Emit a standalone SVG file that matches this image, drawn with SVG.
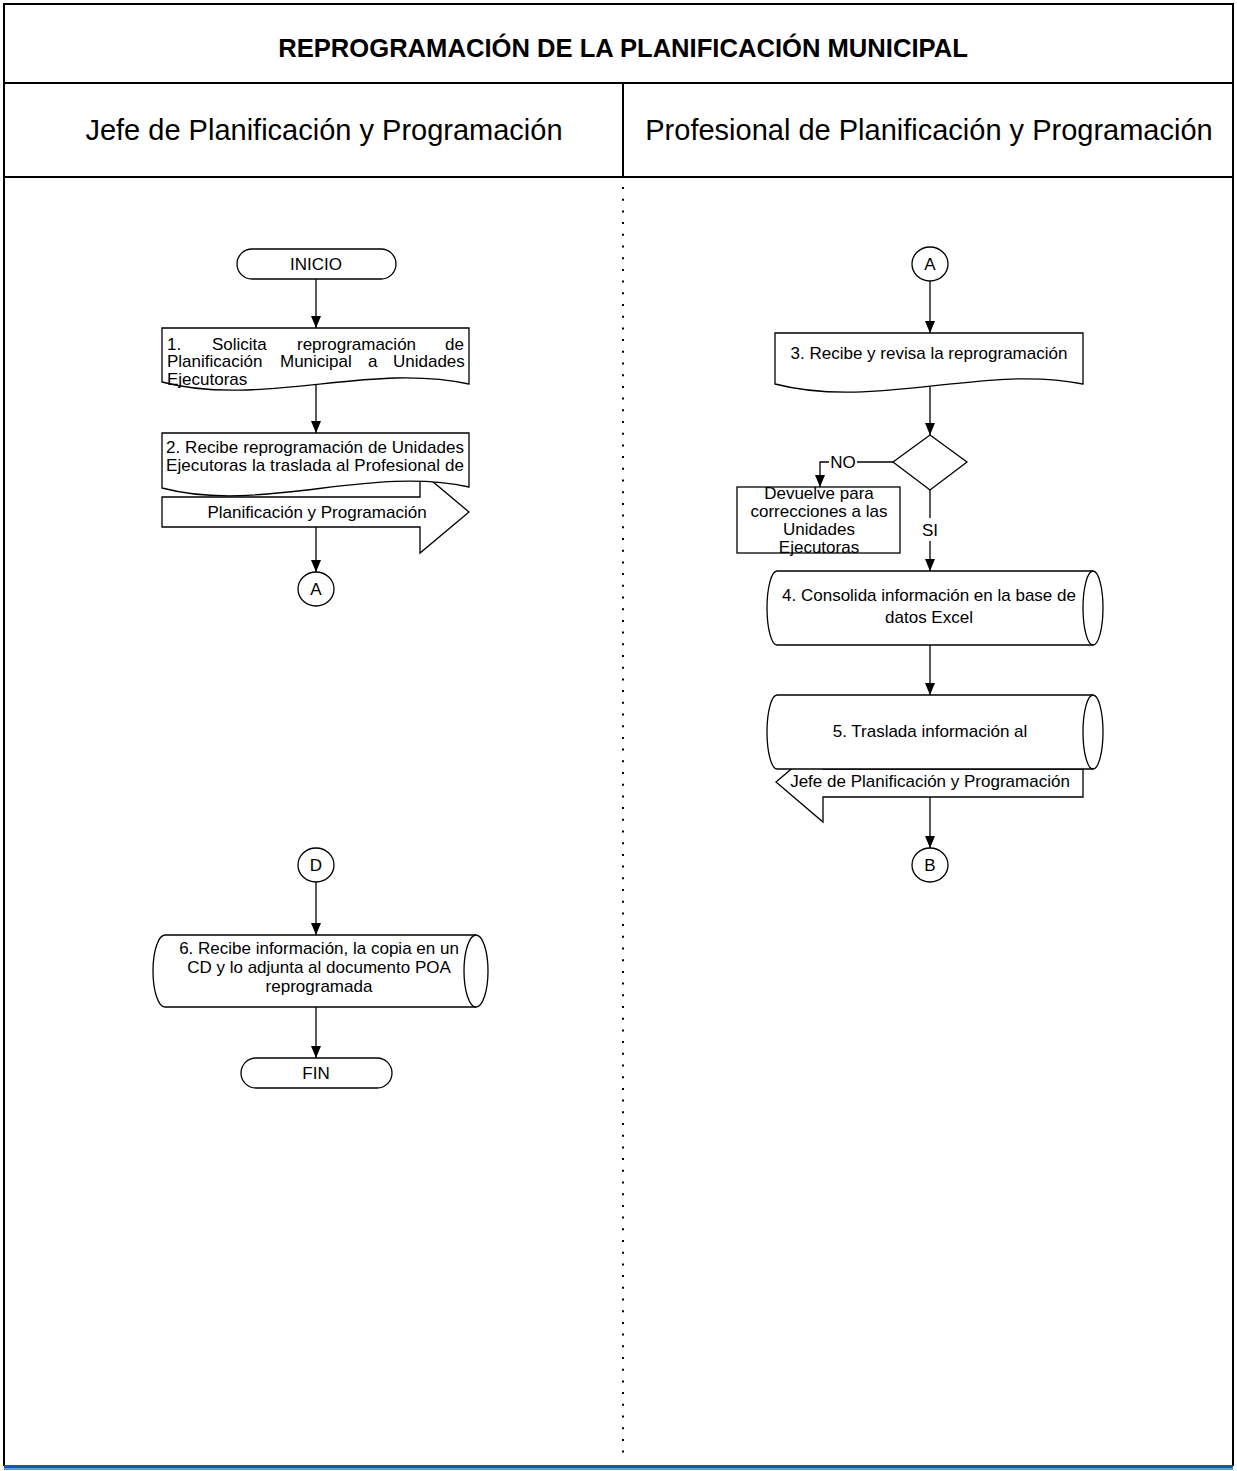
<svg xmlns="http://www.w3.org/2000/svg" width="1237" height="1471" viewBox="0 0 1237 1471">
<style>
.ln{fill:none;stroke:#000;stroke-width:1.3}
.sh{fill:#fff;stroke:#000;stroke-width:1.3}
.fr{fill:none;stroke:#000;stroke-width:2}
.t{font-family:"Liberation Sans",Arial,sans-serif;font-size:17px;fill:#000}
.c{text-anchor:middle}
.h{font-family:"Liberation Sans",Arial,sans-serif;font-size:29px;fill:#000;text-anchor:middle}
.ti{font-family:"Liberation Sans",Arial,sans-serif;font-size:25.6px;font-weight:bold;fill:#000;text-anchor:middle}
.cn{stroke:#000;stroke-width:1.3;fill:none;marker-end:url(#ah)}
</style>
<defs>
<marker id="ah" viewBox="0 0 12 10" refX="12" refY="5" markerWidth="12" markerHeight="10" markerUnits="userSpaceOnUse" orient="auto">
<path d="M0,0 L12,5 L0,10 z" fill="#000"/>
</marker>
</defs>
<rect width="1237" height="1471" fill="#fff"/>
<g id="frame">
<line class="fr" x1="4" y1="4" x2="1233" y2="4"/>
<line class="fr" x1="4" y1="3" x2="4" y2="1466"/>
<line class="fr" x1="1233" y1="3" x2="1233" y2="1466"/>
<line class="fr" x1="4" y1="83" x2="1233" y2="83"/>
<line class="fr" x1="4" y1="177" x2="1233" y2="177"/>
<line class="fr" x1="623" y1="83" x2="623" y2="177"/>
<line x1="623" y1="187" x2="623" y2="1462" stroke="#000" stroke-width="2" stroke-dasharray="2 9.7"/>
<rect x="4" y="1465" width="1229" height="3" fill="#1b58a5"/>
<rect x="4" y="1468" width="1229" height="2" fill="#5f9bd6"/>
<text class="ti" x="623" y="57">REPROGRAMACIÓN DE LA PLANIFICACIÓN MUNICIPAL</text>
<text class="h" x="324" y="140">Jefe de Planificación y Programación</text>
<text class="h" x="929" y="140">Profesional de Planificación y Programación</text>
</g>
<g id="connectors">
<line class="cn" x1="316" y1="279" x2="316" y2="328"/>
<line class="cn" x1="316" y1="384" x2="316" y2="433"/>
<line class="cn" x1="316" y1="527" x2="316" y2="572"/>
<line class="cn" x1="316" y1="882" x2="316" y2="935"/>
<line class="cn" x1="316" y1="1007" x2="316" y2="1058"/>
<line class="cn" x1="930" y1="281" x2="930" y2="333"/>
<line class="cn" x1="930" y1="385" x2="930" y2="435"/>
<line class="ln" x1="893" y1="462" x2="857" y2="462"/>
<polyline class="cn" points="829,462 820,462 820,487"/>
<text class="t c" x="843" y="468">NO</text>
<line class="ln" x1="930" y1="490" x2="930" y2="518"/>
<line class="cn" x1="930" y1="541" x2="930" y2="571"/>
<text class="t c" x="930" y="536">SI</text>
<line class="cn" x1="930" y1="645" x2="930" y2="695"/>
<line class="cn" x1="930" y1="797" x2="930" y2="848"/>
</g>
<g id="n-inicio">
<rect class="sh" x="237" y="249" width="159" height="30" rx="15" ry="15"/>
<text class="t c" x="316" y="270">INICIO</text>
</g>
<g id="n-1">
<path class="sh" d="M162,328 H469 V384 C370,362 260,408 162,382 Z"/>
<text class="t" y="350"><tspan x="167">1.</tspan><tspan x="212">Solicita</tspan><tspan x="297">reprogramación</tspan><tspan x="445">de</tspan></text>
<text class="t" y="367"><tspan x="167">Planificación</tspan><tspan x="280">Municipal</tspan><tspan x="368">a</tspan><tspan x="393">Unidades</tspan></text>
<text class="t" x="167" y="385">Ejecutoras</text>
</g>
<g id="n-2">
<polygon class="sh" points="162,497 420,497 420,471 469,512 420,553 420,527 162,527"/>
<path class="sh" d="M162,433 H469 V487 C370,465 260,514 162,488 Z"/>
<text class="t" x="166" y="453" textLength="298" lengthAdjust="spacing">2. Recibe reprogramación de Unidades</text>
<text class="t" x="166" y="471" textLength="298" lengthAdjust="spacing">Ejecutoras la traslada al Profesional de</text>
<text class="t c" x="317" y="518">Planificación y Programación</text>
</g>
<g id="n-a-left">
<ellipse class="sh" cx="316" cy="589" rx="18" ry="17"/>
<text class="t c" x="316" y="595">A</text>
</g>
<g id="n-d">
<ellipse class="sh" cx="316" cy="865" rx="18" ry="17"/>
<text class="t c" x="316" y="871">D</text>
</g>
<g id="n-6">
<path class="sh" d="M165,935 H476 A12,36 0 0 1 476,1007 H165 A12,36 0 0 1 165,935 Z"/>
<path class="ln" d="M476,935 A12,36 0 0 0 476,1007"/>
<text class="t c" x="319" y="954">6. Recibe información, la copia en un</text>
<text class="t c" x="319" y="973">CD y lo adjunta al documento POA</text>
<text class="t c" x="319" y="992">reprogramada</text>
</g>
<g id="n-fin">
<rect class="sh" x="241" y="1058" width="151" height="30" rx="15" ry="15"/>
<text class="t c" x="316" y="1079">FIN</text>
</g>
<g id="n-a-right">
<ellipse class="sh" cx="930" cy="264" rx="18" ry="17"/>
<text class="t c" x="930" y="270">A</text>
</g>
<g id="n-3">
<path class="sh" d="M775,333 H1083 V384 C985,364 875,410 775,384 Z"/>
<text class="t c" x="929" y="359">3. Recibe y revisa la reprogramación</text>
</g>
<g id="n-dec">
<polygon class="sh" points="930,435 967,462 930,490 893,462"/>
</g>
<g id="n-dev">
<rect class="sh" x="737" y="487" width="163" height="66"/>
<text class="t c" x="819" y="499">Devuelve para</text>
<text class="t c" x="819" y="517">correcciones a las</text>
<text class="t c" x="819" y="535">Unidades</text>
<text class="t c" x="819" y="553">Ejecutoras</text>
</g>
<g id="n-4">
<path class="sh" d="M777,571 H1093 A10,37 0 0 1 1093,645 H777 A10,37 0 0 1 777,571 Z"/>
<path class="ln" d="M1093,571 A10,37 0 0 0 1093,645"/>
<text class="t c" x="929" y="601">4. Consolida información en la base de</text>
<text class="t c" x="929" y="623">datos Excel</text>
</g>
<g id="n-5">
<polygon class="sh" points="1083,769 1083,797 823,797 823,822 776,782 823,742 823,769"/>
<path class="sh" d="M777,695 H1093 A10,37 0 0 1 1093,769 H777 A10,37 0 0 1 777,695 Z"/>
<path class="ln" d="M1093,695 A10,37 0 0 0 1093,769"/>
<text class="t c" x="930" y="737">5. Traslada información al</text>
<text class="t c" x="930" y="787">Jefe de Planificación y Programación</text>
</g>
<g id="n-b">
<ellipse class="sh" cx="930" cy="865" rx="18" ry="17"/>
<text class="t c" x="930" y="871">B</text>
</g>
</svg>
